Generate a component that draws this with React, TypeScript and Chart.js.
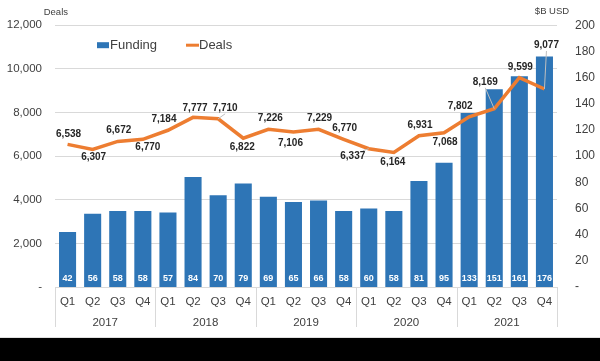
import { useEffect, useRef } from 'react';
import { Chart, registerables } from 'chart.js';
Chart.register(...registerables);

const quarters = ['Q1', 'Q2', 'Q3', 'Q4', 'Q1', 'Q2', 'Q3', 'Q4', 'Q1', 'Q2', 'Q3', 'Q4', 'Q1', 'Q2', 'Q3', 'Q4', 'Q1', 'Q2', 'Q3', 'Q4'];
const years = ['2017', '2018', '2019', '2020', '2021'];
const funding = [42, 56, 58, 58, 57, 84, 70, 79, 69, 65, 66, 58, 60, 58, 81, 95, 133, 151, 161, 176];
const deals = [6538, 6307, 6672, 6770, 7184, 7777, 7710, 6822, 7226, 7106, 7229, 6770, 6337, 6164, 6931, 7068, 7802, 8169, 9599, 9077];
const dealsAxis = { min: 0, max: 12000, step: 2000 };
const fundingAxis = { min: 0, max: 200, step: 20 };

// label placement (styling): [dx, dy] of label centre relative to the point, leader flag
const labelOffsets: [number, number, boolean][] = [
  [1, -10, false], [1, 8, false], [1, -11, false], [5, 8, false], [-4, -11, false],
  [2, -9, false], [7, -11, true], [-1, 9, false], [2, -11, false], [-3, 11, false],
  [1, -11, false], [1, -11, false], [-16, 8, true], [-1, 10, false], [1, -11, false],
  [1, 9, false], [-9, -11, false], [-9, -27, true], [1, -10, false], [2, -44, true],
];

const FONT = "'Liberation Sans', Arial, sans-serif";
const BLUE = '#2E75B6';
const ORANGE = '#ED7D31';
const TEXT = '#404040';

const fmt = (v: number) => v.toLocaleString('en-US');

const overlay = {
  id: 'overlay',
  afterDatasetsDraw(chart: any) {
    const { ctx, chartArea } = chart;
    ctx.save();
    // bar value labels
    const barMeta = chart.getDatasetMeta(1);
    ctx.font = `bold 9px ${FONT}`;
    ctx.fillStyle = '#ffffff';
    ctx.textAlign = 'center';
    ctx.textBaseline = 'middle';
    barMeta.data.forEach((el: any, i: number) => {
      ctx.fillText(String(funding[i]), el.x, chartArea.bottom - 8);
    });
    // line labels
    const lineMeta = chart.getDatasetMeta(0);
    ctx.font = `bold 10px ${FONT}`;
    lineMeta.data.forEach((el: any, i: number) => {
      const [dx, dy, leader] = labelOffsets[i];
      const lx = el.x + dx;
      const ly = el.y + dy;
      if (leader) {
        ctx.strokeStyle = '#bfbfbf';
        ctx.lineWidth = 1;
        ctx.beginPath();
        const sy = dy < 0 ? ly + 6 : ly - 6;
        ctx.moveTo(lx + (dx < -10 ? 10 : 0), sy);
        ctx.lineTo(el.x, el.y);
        ctx.stroke();
      }
      ctx.fillStyle = '#262626';
      ctx.fillText(fmt(deals[i]), lx, ly);
    });
    ctx.restore();
  },
  afterDraw(chart: any) {
    const { ctx, chartArea } = chart;
    const x = chart.scales.x;
    ctx.save();
    // group separators and year labels
    const step = x.getPixelForValue(1) - x.getPixelForValue(0);
    ctx.strokeStyle = '#d9d9d9';
    ctx.lineWidth = 1;
    for (let g = 0; g <= years.length; g++) {
      const px = Math.round(x.getPixelForValue(g * 4) - step / 2) + 0.5;
      ctx.beginPath();
      ctx.moveTo(px, chartArea.bottom);
      ctx.lineTo(px, chartArea.bottom + 40);
      ctx.stroke();
    }
    ctx.fillStyle = TEXT;
    ctx.font = `11.5px ${FONT}`;
    ctx.textAlign = 'center';
    ctx.textBaseline = 'middle';
    years.forEach((y, g) => {
      const cx = (x.getPixelForValue(g * 4) + x.getPixelForValue(g * 4 + 3)) / 2;
      ctx.fillText(y, cx, chartArea.bottom + 36);
    });
    // axis titles
    ctx.font = `9.5px ${FONT}`;
    ctx.textAlign = 'right';
    ctx.fillText('Deals', chartArea.left + 13, 12);
    ctx.textAlign = 'center';
    ctx.fillText('$B USD', chartArea.right - 5, 11);
    // legend
    const ly = chartArea.top + 20;
    ctx.fillStyle = BLUE;
    ctx.fillRect(chartArea.left + 42, ly - 3, 12, 6);
    ctx.fillStyle = TEXT;
    ctx.font = `13px ${FONT}`;
    ctx.textAlign = 'left';
    ctx.fillText('Funding', chartArea.left + 55, ly);
    ctx.strokeStyle = ORANGE;
    ctx.lineWidth = 3;
    ctx.beginPath();
    ctx.moveTo(chartArea.left + 131, ly);
    ctx.lineTo(chartArea.left + 144, ly);
    ctx.stroke();
    ctx.fillText('Deals', chartArea.left + 144, ly);
    ctx.restore();
  },
};

export default function App() {
  const ref = useRef<HTMLCanvasElement>(null);
  useEffect(() => {
    document.body.style.margin = '0';
    const chart = new Chart(ref.current!, {
      type: 'bar',
      data: {
        labels: quarters,
        datasets: [
          {
            type: 'line',
            label: 'Deals',
            data: deals,
            yAxisID: 'y',
            borderColor: ORANGE,
            backgroundColor: ORANGE,
            borderWidth: 3.5,
            pointRadius: 0,
            tension: 0,
            order: 0,
          },
          {
            type: 'bar',
            label: 'Funding',
            data: funding,
            yAxisID: 'y1',
            backgroundColor: BLUE,
            barPercentage: 0.68,
            categoryPercentage: 1,
            order: 1,
          },
        ],
      },
      options: {
        animation: false,
        responsive: false,
        devicePixelRatio: 1,
        layout: { padding: { top: 24, left: 0, right: 0, bottom: 0 } },
        plugins: { legend: { display: false }, tooltip: { enabled: false } },
        font: { family: FONT },
        scales: {
          x: {
            grid: { display: false, drawTicks: false },
            border: { display: false },
            ticks: { color: TEXT, font: { family: FONT, size: 11.5 }, padding: 8, maxRotation: 0, autoSkip: false },
            afterFit: (s: any) => { s.height = 50; },
          },
          y: {
            position: 'left',
            min: dealsAxis.min,
            max: dealsAxis.max,
            grid: { color: '#d9d9d9', drawTicks: false },
            border: { display: false },
            ticks: {
              stepSize: dealsAxis.step,
              color: TEXT,
              font: { family: FONT, size: 11.5 },
              padding: 13,
              callback: (v: any) => (v === 0 ? '-' : fmt(v)),
            },
            afterFit: (s: any) => { s.width = 55; },
          },
          y1: {
            position: 'right',
            min: fundingAxis.min,
            max: fundingAxis.max,
            grid: { display: false, drawTicks: false },
            border: { display: false },
            ticks: {
              stepSize: fundingAxis.step,
              color: TEXT,
              font: { family: FONT, size: 12 },
              padding: 18,
              callback: (v: any) => (v === 0 ? '-' : String(v)),
            },
            afterFit: (s: any) => { s.width = 43; },
          },
        },
      },
      plugins: [overlay],
    });
    return () => chart.destroy();
  }, []);
  return (
    <div style={{ width: 600, height: 361, background: '#000' }}>
      <div style={{ width: 600, height: 338, background: '#fff', borderBottom: '1px solid #e0e0e0', boxSizing: 'border-box' }}>
        <canvas ref={ref} width={600} height={337} style={{ display: 'block' }} />
      </div>
    </div>
  );
}
